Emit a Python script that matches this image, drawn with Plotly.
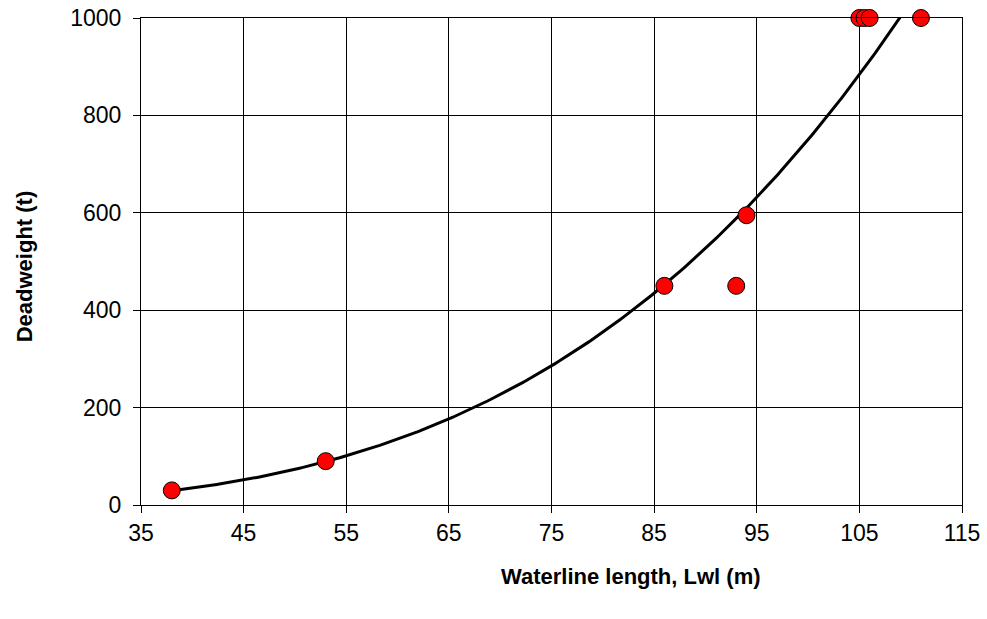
import numpy as np
import plotly.graph_objects as go

# Data
lwl_m = [38, 53, 86, 93, 94, 105, 105.5, 106, 111]
deadweight_t = [30, 90, 450, 450, 595, 1000, 1000, 1000, 1000]

x_ticks = [35, 45, 55, 65, 75, 85, 95, 105, 115]
y_ticks = [0, 200, 400, 600, 800, 1000]

# Power trendline (least squares on log-log), as in a spreadsheet trendline
b, ln_a = np.polyfit(np.log(lwl_m), np.log(deadweight_t), 1)
xf = np.linspace(min(lwl_m), max(lwl_m), 300)
yf = np.exp(ln_a) * xf ** b

fig = go.Figure()
fig.add_trace(go.Scatter(x=xf, y=yf, mode="lines",
                         line=dict(color="black", width=3),
                         cliponaxis=True, hoverinfo="skip", showlegend=False))
fig.add_trace(go.Scatter(x=lwl_m, y=deadweight_t, mode="markers",
                         marker=dict(color="#FF0000", size=17,
                                     line=dict(color="black", width=1)),
                         cliponaxis=False, showlegend=False))

font = "Liberation Sans, Arial, sans-serif"
axis_common = dict(showline=True, linecolor="black", linewidth=1, mirror=True,
                   showgrid=True, gridcolor="black", gridwidth=1,
                   ticks="outside", ticklen=7, tickcolor="black",
                   tickfont=dict(family=font, size=23, color="black"),
                   zeroline=False, automargin=False)

fig.update_layout(
    width=987, height=619,
    margin=dict(l=141, r=25, t=18, b=114),
    paper_bgcolor="white", plot_bgcolor="white",
    xaxis=dict(range=[35, 115], tickvals=x_ticks, **axis_common),
    yaxis=dict(range=[0, 1000], tickvals=y_ticks, ticklabelstandoff=7, **axis_common),
    annotations=[
        dict(text="<b>Waterline length, Lwl (m)</b>", xref="paper", yref="paper",
             x=0.597, y=-0.146, xanchor="center", yanchor="middle", showarrow=False,
             font=dict(family=font, size=22, color="black")),
        dict(text="<b>Deadweight (t)</b>", xref="paper", yref="paper",
             x=-0.142, y=0.491, xanchor="center", yanchor="middle", showarrow=False,
             textangle=-90, font=dict(family=font, size=22, color="black")),
    ],
)

fig.write_html("out.html", config={"displayModeBar": False},
               post_script="document.body.style.margin='0';document.body.style.overflow='hidden';")
